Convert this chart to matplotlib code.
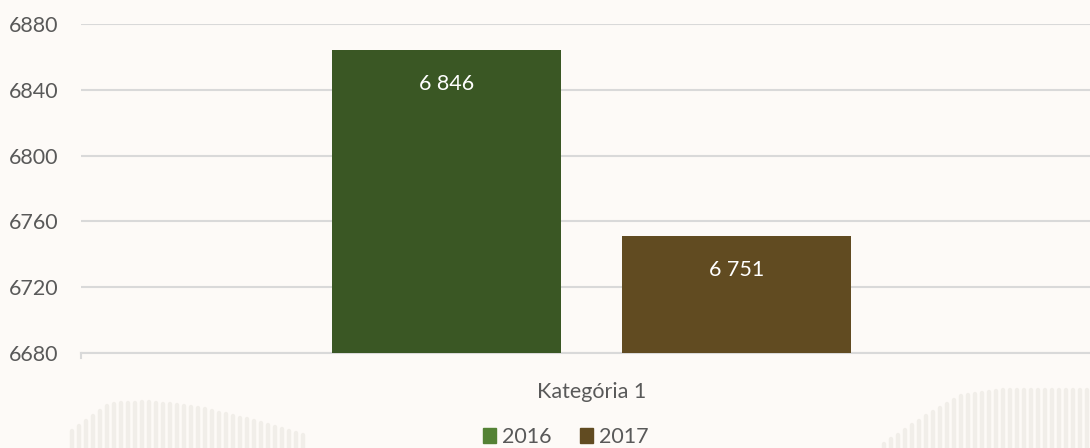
import matplotlib.pyplot as plt
import numpy as np

plt.rcParams['font.family'] = ['Lato', 'DejaVu Sans']

# data
category = "Kategória 1"
years = ["2016", "2017"]
heights = [6864, 6751]          # bar tops as drawn
value_labels = ["6 846", "6 751"]  # labels as printed in the chart
bar_colors = ["#3a5724", "#614b21"]
legend_colors = ["#548235", "#614b21"]
yticks = [6680, 6720, 6760, 6800, 6840, 6880]

W, H = 1090, 448
fig = plt.figure(figsize=(W / 100, H / 100), dpi=100)
fig.patch.set_facecolor("#fdfaf7")

# faint decorative strokes at the bottom (background art)
deco = fig.add_axes([0, 0, 1, 1], zorder=0)
deco.set_xlim(0, W)
deco.set_ylim(H, 0)
deco.axis("off")
left_x = np.arange(72, 306, 7)
left_h = np.interp(left_x, [70, 110, 150, 200, 250, 306], [16, 44, 46, 40, 28, 12])
right_x = np.arange(884, 1092, 7)
right_h = np.interp(right_x, [884, 920, 960, 1000, 1090], [4, 28, 52, 58, 58])
for xs, hs in [(left_x, left_h), (right_x, right_h)]:
    for x, h in zip(xs, hs):
        deco.plot([x, x], [H + 5, H - h], color="#e4e0d8", lw=3.2,
                  alpha=0.45, solid_capstyle="round")

# plot area: left edge at x=81px, bottom at y=353px, top at y=24px
left = 81 / W
bottom = 1 - 353 / H
top = 1 - 24 / H
cat_w = 1021 / W
ax = fig.add_axes([left, bottom, cat_w, top - bottom], zorder=1)
ax.patch.set_alpha(0)

bw = 229 / 1021
gap = 61 / 1021
xpos = [-(bw + gap) / 2, (bw + gap) / 2]
ax.bar(xpos, [h - 6680 for h in heights], bottom=6680, width=bw,
       color=bar_colors, zorder=3)

for x, h, lab in zip(xpos, heights, value_labels):
    ax.text(x, h - 20.5, lab, ha="center", va="center", color="white",
            fontsize=15.5, zorder=4)

ax.set_xlim(-0.5, 0.5)
ax.set_ylim(6680, 6880)
ax.set_yticks(yticks)
ax.set_yticklabels([str(t) for t in yticks])
ax.tick_params(axis="y", length=0, pad=16, labelsize=15.5, labelcolor="#595959")
ax.set_xticks([0])
ax.set_xticklabels([category])
ax.tick_params(axis="x", length=0, pad=21, labelsize=15.5, labelcolor="#595959")
ax.grid(axis="y", color="#d9d9d9", lw=1.5, zorder=0)
for s in ["top", "right", "left"]:
    ax.spines[s].set_visible(False)
ax.spines["bottom"].set_color("#d9d9d9")
ax.spines["bottom"].set_linewidth(1.5)
ax.plot([-0.5, -0.5], [6680, 6677], color="#d9d9d9", lw=1.5, clip_on=False)

handles = [plt.Rectangle((0, 0), 1, 1, color=c) for c in legend_colors]
fig.legend(handles, years, loc="center", bbox_to_anchor=(566 / W, 1 - 437 / H),
           ncol=2, frameon=False, fontsize=15.5, handlelength=0.6,
           handleheight=0.7, handletextpad=0.3, columnspacing=1.3,
           labelcolor="#595959")

fig.savefig("out.png", dpi=100, facecolor=fig.get_facecolor())
